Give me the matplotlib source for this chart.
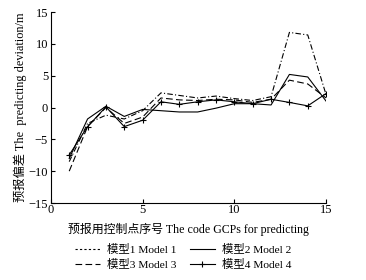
import matplotlib
matplotlib.use("Agg")
import matplotlib.pyplot as plt

plt.rcParams['font.family'] = ['Liberation Serif', 'Noto Sans CJK SC']
plt.rcParams['axes.unicode_minus'] = True

x = list(range(1, 16))
model1 = [-8.5, -2.5, -1.2, -1.8, -0.5, 2.3, 1.9, 1.5, 1.8, 1.4, 1.1, 1.7, 11.8, 11.4, 2.0]
model2 = [-8.0, -1.8, 0.2, -1.4, -0.3, -0.5, -0.7, -0.7, -0.1, 0.6, 0.6, 0.4, 5.2, 4.8, 1.0]
model3 = [-10.0, -3.0, 0.0, -2.5, -1.5, 1.5, 1.2, 1.1, 1.3, 1.2, 0.8, 1.3, 4.3, 3.7, 1.5]
model4 = [-7.45, -3.0, 0.1, -3.0, -2.0, 0.9, 0.5, 0.9, 1.2, 0.9, 0.6, 1.3, 0.8, 0.26, 2.2]

labels = ['模型1 Model 1', '模型2 Model 2', '模型3 Model 3', '模型4 Model 4']
xlabel = '预报用控制点序号 The code GCPs for predicting'
ylabel = '预报偏差 The  predicting deviation/m'

fig = plt.figure(figsize=(3.66, 2.80), dpi=100)
ax = fig.add_axes([0.139, 0.275, 0.752, 0.682])

lw = 0.8
l1, = ax.plot(x, model1, color='black', lw=lw, linestyle=(0, (5, 2, 1, 2)))
l2, = ax.plot(x, model2, color='black', lw=lw, linestyle='-')
l3, = ax.plot(x, model3, color='black', lw=lw, linestyle=(0, (6, 3)))
l4, = ax.plot(x, model4, color='black', lw=lw, linestyle='-', marker='+', markersize=5, markeredgewidth=0.8)

ax.set_xlim(0, 15)
ax.set_ylim(-15, 15)
ax.set_xticks([0, 5, 10, 15])
ax.set_yticks([-15, -10, -5, 0, 5, 10, 15])
ax.tick_params(direction='in', length=3, width=0.8, labelsize=9, colors='black')
ax.tick_params(axis='x', pad=1)
ax.tick_params(axis='y', pad=2)
ax.spines['top'].set_visible(False)
ax.spines['right'].set_visible(False)
for s in ('left', 'bottom'):
    ax.spines[s].set_linewidth(0.8)

ax.set_xlabel(xlabel, fontsize=8.6, labelpad=5)
ax.set_ylabel(ylabel, fontsize=8.8, labelpad=1)

h1, = ax.plot([], [], color='black', lw=lw, linestyle=(0, (2, 2)))
handles = [h1, l3, l2, l4]
leg_labels = [labels[0], labels[2], labels[1], labels[3]]
fig.legend(handles, leg_labels, loc='upper center', bbox_to_anchor=(0.5, 0.15),
           ncol=2, frameon=False, fontsize=8.2, handlelength=2.2, columnspacing=1.2,
           handletextpad=0.6, labelspacing=0.35, borderpad=0)

fig.savefig('out.png', dpi=100)
